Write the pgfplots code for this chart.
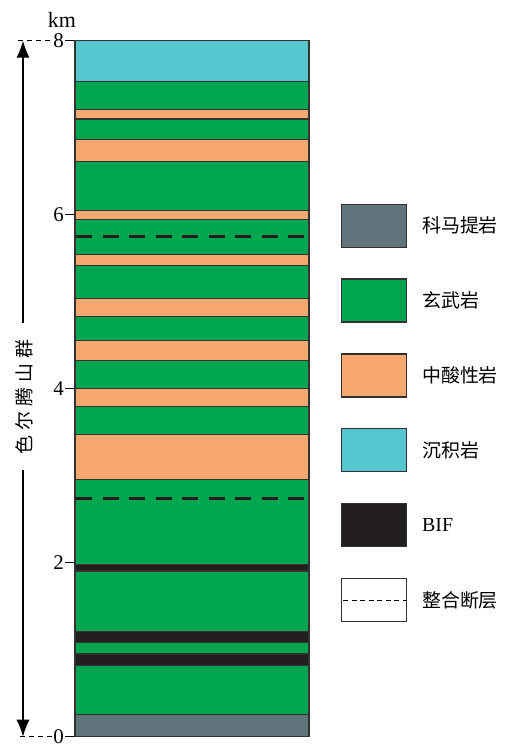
\documentclass[border=0pt]{standalone}
\usepackage{fontspec}
\setmainfont{Liberation Serif}
\newfontfamily\cjk{Noto Sans CJK SC}
\usepackage{pgfplots}
\pgfplotsset{compat=1.18}
\usetikzlibrary{arrows.meta}
\definecolor{komat}{RGB}{97,116,124}
\definecolor{basalt}{RGB}{0,165,80}
\definecolor{felsic}{RGB}{246,168,112}
\definecolor{sedim}{RGB}{85,197,206}
\definecolor{bif}{RGB}{35,31,32}
\definecolor{edge}{RGB}{50,50,50}
\pgfplotsset{lay/.style={fill=#1, draw=edge, line width=1.1bp}}
\newcommand\cg{\hspace{5bp}}
\begin{document}
\begin{tikzpicture}[x=1bp,y=1bp]
\useasboundingbox (0,0) rectangle (505,744);
\begin{axis}[
  at={(75bp,7.3bp)}, anchor=origin,
  scale only axis, width=234bp, height=696bp,
  xmin=0, xmax=1, ymin=0, ymax=8,
  axis x line=none,
  axis y line*=left,
  axis line style={edge, line width=1.1bp},
  ytick={0,2,4,6,8},
  tick align=outside,
  major tick length=10bp,
  tick style={black, line width=0.9bp},
  yticklabel style={inner sep=1bp, font=\fontsize{21}{21}\selectfont},
  /pgf/number format/assume math mode=true,
  clip=false,
]
% layers: bottom to top
\addplot[lay=komat]  coordinates {(0,0) (1,0) (1,0.26) (0,0.26)} -- cycle;
\addplot[lay=basalt] coordinates {(0,0.26) (1,0.26) (1,0.82) (0,0.82)} -- cycle;
\addplot[lay=bif]    coordinates {(0,0.82) (1,0.82) (1,0.95) (0,0.95)} -- cycle;
\addplot[lay=basalt] coordinates {(0,0.95) (1,0.95) (1,1.08) (0,1.08)} -- cycle;
\addplot[lay=bif]    coordinates {(0,1.08) (1,1.08) (1,1.21) (0,1.21)} -- cycle;
\addplot[lay=basalt] coordinates {(0,1.21) (1,1.21) (1,1.905) (0,1.905)} -- cycle;
\addplot[lay=bif]    coordinates {(0,1.905) (1,1.905) (1,1.98) (0,1.98)} -- cycle;
\addplot[lay=basalt] coordinates {(0,1.98) (1,1.98) (1,2.96) (0,2.96)} -- cycle;
\addplot[lay=felsic] coordinates {(0,2.96) (1,2.96) (1,3.47) (0,3.47)} -- cycle;
\addplot[lay=basalt] coordinates {(0,3.47) (1,3.47) (1,3.80) (0,3.80)} -- cycle;
\addplot[lay=felsic] coordinates {(0,3.80) (1,3.80) (1,4.00) (0,4.00)} -- cycle;
\addplot[lay=basalt] coordinates {(0,4.00) (1,4.00) (1,4.32) (0,4.32)} -- cycle;
\addplot[lay=felsic] coordinates {(0,4.32) (1,4.32) (1,4.55) (0,4.55)} -- cycle;
\addplot[lay=basalt] coordinates {(0,4.55) (1,4.55) (1,4.83) (0,4.83)} -- cycle;
\addplot[lay=felsic] coordinates {(0,4.83) (1,4.83) (1,5.04) (0,5.04)} -- cycle;
\addplot[lay=basalt] coordinates {(0,5.04) (1,5.04) (1,5.42) (0,5.42)} -- cycle;
\addplot[lay=felsic] coordinates {(0,5.42) (1,5.42) (1,5.545) (0,5.545)} -- cycle;
\addplot[lay=basalt] coordinates {(0,5.545) (1,5.545) (1,5.94) (0,5.94)} -- cycle;
\addplot[lay=felsic] coordinates {(0,5.94) (1,5.94) (1,6.05) (0,6.05)} -- cycle;
\addplot[lay=basalt] coordinates {(0,6.05) (1,6.05) (1,6.61) (0,6.61)} -- cycle;
\addplot[lay=felsic] coordinates {(0,6.61) (1,6.61) (1,6.86) (0,6.86)} -- cycle;
\addplot[lay=basalt] coordinates {(0,6.86) (1,6.86) (1,7.10) (0,7.10)} -- cycle;
\addplot[lay=felsic] coordinates {(0,7.10) (1,7.10) (1,7.21) (0,7.21)} -- cycle;
\addplot[lay=basalt] coordinates {(0,7.21) (1,7.21) (1,7.53) (0,7.53)} -- cycle;
\addplot[lay=sedim]  coordinates {(0,7.53) (1,7.53) (1,8) (0,8)} -- cycle;
% conformable faults
\addplot[bif, line width=2.8bp, dash pattern=on 16bp off 10.5bp] coordinates {(0.005,2.74) (0.995,2.74)};
\addplot[bif, line width=2.8bp, dash pattern=on 16bp off 10.5bp] coordinates {(0.005,5.75) (0.995,5.75)};
\end{axis}
% km label
\node[font=\fontsize{22}{22}\selectfont, anchor=base, inner sep=0pt] at (62,716) {km};
% dashed connectors
\draw[black, line width=0.9bp, dash pattern=on 5bp off 4bp] (18,703.3) -- (52,703.3);
\draw[black, line width=0.9bp, dash pattern=on 5bp off 4bp] (20,7.3) -- (53,7.3);
% vertical arrow
\draw[black, line width=1.1bp, -{Latex[length=17bp,width=13bp]}] (23,421) -- (23,703.3);
\draw[black, line width=1.1bp, -{Latex[length=17bp,width=13bp]}] (23,274) -- (23,7.3);
\node[rotate=90, font=\cjk\fontsize{19}{19}\selectfont] at (24,347) {色\cg 尔\cg 腾\cg 山\cg 群};
% legend
\foreach \c/\t [count=\i from 0] in {komat/科马提岩, basalt/玄武岩, felsic/中酸性岩, sedim/沉积岩}{
  \pgfmathsetmacro\yy{518.3-74.86*\i}
  \draw[fill=\c, draw=edge, line width=1.2bp] (341.7,\yy-21.5) rectangle (406.7,\yy+21.5);
  \node[anchor=west, inner sep=0pt, font=\cjk\fontsize{19}{19}\selectfont] at (422,\yy) {\t};
}
\pgfmathsetmacro\yy{518.3-74.86*4}
\draw[fill=bif, draw=edge, line width=1.2bp] (341.7,\yy-21.5) rectangle (406.7,\yy+21.5);
\node[anchor=west, inner sep=0pt, font=\fontsize{20}{20}\selectfont] at (422,\yy) {BIF};
\pgfmathsetmacro\yy{518.3-74.86*5}
\draw[fill=white, draw=edge, line width=1.2bp] (341.7,\yy-21.5) rectangle (406.7,\yy+21.5);
\draw[black, line width=0.9bp, dash pattern=on 5bp off 3.5bp] (343,\yy) -- (405.5,\yy);
\node[anchor=west, inner sep=0pt, font=\cjk\fontsize{19}{19}\selectfont] at (422,\yy) {整合断层};
\end{tikzpicture}
\end{document}
